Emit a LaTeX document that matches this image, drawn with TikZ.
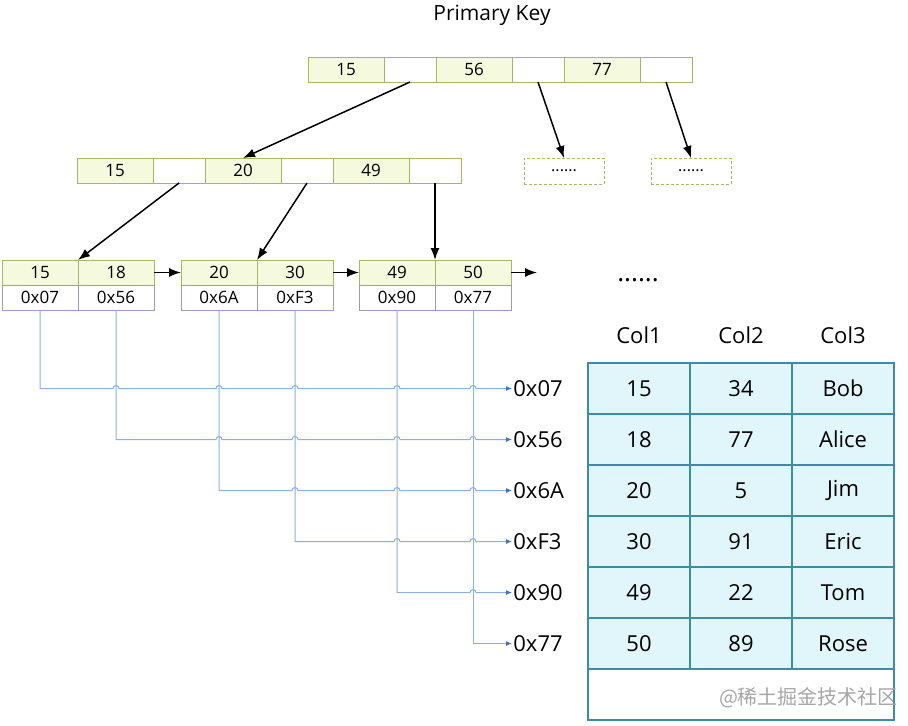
\documentclass[tikz,border=0pt]{standalone}
\usepackage{fontspec}
\setmainfont{Open Sans}
\newfontfamily\cjkfont{Noto Sans CJK SC}
\usetikzlibrary{arrows.meta}
\definecolor{keyFill}{RGB}{245,249,222}
\definecolor{keyLine}{RGB}{165,183,100}
\definecolor{addrLine}{RGB}{160,150,200}
\definecolor{rowFill}{RGB}{224,246,250}
\definecolor{rowLine}{RGB}{60,140,165}
\definecolor{linkBlue}{RGB}{140,175,222}
\definecolor{tipBlue}{RGB}{60,115,200}

\begin{document}
\begin{tikzpicture}[x=0.5pt, y=-0.5pt,
    cell/.style={draw, inner sep=0pt, outer sep=0pt, anchor=north west,
      line width=0.5pt, font=\fontsize{8.5}{9}\selectfont},
    keycell/.style={cell, draw=keyLine, fill=keyFill, minimum width=38pt, minimum height=12.5pt},
    ptrcell/.style={cell, draw=keyLine, fill=white, minimum width=26pt, minimum height=12.5pt},
    leafaddr/.style={cell, draw=addrLine, fill=white, minimum width=38pt, minimum height=12.5pt},
    dotbox/.style={cell, draw=keyLine, dash pattern=on 1.5pt off 1pt,
      minimum width=40pt, minimum height=13pt, font=\fontsize{8}{9}\selectfont},
    rowcell/.style={cell, draw=rowLine, fill=rowFill, line width=0.8pt,
      minimum width=51pt, minimum height=25.5pt, font=\fontsize{11}{13}\selectfont},
    addr/.style={anchor=west, inner sep=0.5pt, font=\fontsize{11}{13}\selectfont},
    tree/.style={line width=0.75pt, -{Latex[length=6pt,width=4.5pt]}},
    link/.style={draw=linkBlue, line width=0.5pt, -{Latex[length=3pt,width=2.5pt,color=tipBlue]}}]
  \useasboundingbox (0,0) rectangle (908,725);

  \node[font=\fontsize{10.5}{12}\selectfont] (title) at (492,15) {Primary Key};

  % root and inner node
  \foreach \k/\x in {15/308, 56/436, 77/564} {
    \node[keycell] (t\k) at (\x,57) {\k};
    \node[ptrcell] (tp\k) at (t\k.north east) {};
  }
  \foreach \k/\x in {15/77, 20/205, 49/333} {
    \node[keycell] (s\k) at (\x,158) {\k};
    \node[ptrcell] (sp\k) at (s\k.north east) {};
  }
  \node[dotbox] (d1) at (524,158) {......};
  \node[dotbox] (d2) at (651,158) {......};

  % leaves
  \foreach \ka/\kb/\pa/\pb/\x in {15/18/07/56/2, 20/30/6A/F3/181, 49/50/90/77/359} {
    \node[keycell] (k\ka) at (\x,260) {\ka};
    \node[keycell] (k\kb) at (k\ka.north east) {\kb};
    \node[leafaddr] (p\pa) at (k\ka.south west) {0x\pa};
    \node[leafaddr] (p\pb) at (k\kb.south west) {0x\pb};
  }
  \node[font=\fontsize{13}{14}\selectfont] (more) at (638,280) {......};

  \draw[tree] (tp15.south) -- (s20.north);
  \draw[tree] (tp56.south) -- (d1.north);
  \draw[tree] (tp77.south) -- (d2.north);
  \draw[tree] (sp15.south) -- (k15.north east);
  \draw[tree] (sp20.south) -- (k20.north east);
  \draw[tree] (sp49.south) -- (k49.north east);
  \draw[tree] (k18.east) -- (k20.west);
  \draw[tree] (k30.east) -- (k49.west);
  \coordinate (next) at (537,272.5);
  \draw[tree] (k50.east) -- (next);

  % row addresses
  \foreach \a/\y in {07/388.5, 56/439.5, 6A/490.5, F3/541.5, 90/592.5, 77/643.5}
    \node[addr] (r\a) at (512,\y) {0x\a};
  \foreach \a/\hops in {07/{116,219,295,397,473}, 56/{219,295,397,473},
                        6A/{295,397,473}, F3/{397,473}, 90/{473}}
    \draw[link] (p\a.south) -- (p\a.south |- r\a.west)
      foreach \h in \hops { -- (\h-3,0 |- r\a.west) arc[start angle=180, end angle=0, radius=1.5pt] }
      -- (r\a.west);
  \draw[link] (p77.south) |- (r77.west);

  % table
  \foreach \n/\x in {1/639, 2/741, 3/843}
    \node[font=\fontsize{11}{13}\selectfont] (h\n) at (\x,335) {Col\n};
  \foreach \u/\v/\w [count=\i] in {15/34/Bob, 18/77/Alice, 20/5/Jim, 30/91/Eric, 49/22/Tom, 50/89/Rose} {
    \node[rowcell] (c\i-1) at (588,312+51*\i) {\u};
    \node[rowcell] (c\i-2) at (c\i-1.north east) {\v};
    \node[rowcell] (c\i-3) at (c\i-2.north east) {\w};
  }
  \node[rowcell, fill=white, minimum width=153pt] (foot) at (c6-1.south west) {};
  \node[font=\cjkfont\fontsize{10}{12}\selectfont, text=black!35, anchor=east] (mark) at (905,698) {@稀土掘金技术社区};
\end{tikzpicture}
\end{document}
